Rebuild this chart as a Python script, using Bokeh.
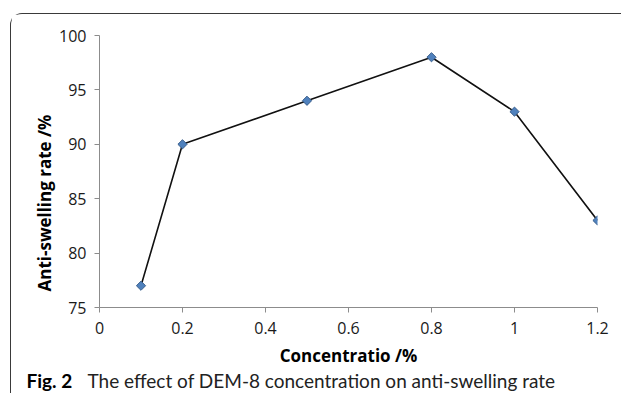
import numpy as np
from bokeh.plotting import figure
from bokeh.models import Range1d, FixedTicker, Title, Div
from bokeh.layouts import column
from bokeh.embed import file_html
from bokeh.resources import INLINE

concentration = [0.1, 0.2, 0.5, 0.8, 1.0, 1.2]
anti_swelling = [77, 90, 94, 98, 93, 83]
x_ticks = [0, 0.2, 0.4, 0.6, 0.8, 1.0, 1.2]
x_tick_labels = ["0", "0.2", "0.4", "0.6", "0.8", "1", "1.2"]
y_ticks = [75, 80, 85, 90, 95, 100]
x_title = "Concentratio /%"
y_title = "Anti-swelling rate /%"
caption_bold = "Fig. 2"
caption_text = "The effect of DEM-8 concentration on anti-swelling rate"

FONT = "Open Sans"
W = 610
H_MAIN = 355
H_CAP = 24

p = figure(width=W, height=H_MAIN, output_backend="svg", toolbar_location=None,
           x_range=Range1d(0, 1.2), y_range=Range1d(75, 100),
           min_border_left=88, min_border_right=24, min_border_top=21, min_border_bottom=61)
p.outline_line_color = None
p.xgrid.visible = False
p.ygrid.visible = False

for ax in (p.xaxis[0], p.yaxis[0]):
    ax.axis_line_color = "#8c8c8c"
    ax.axis_line_width = 1
    ax.major_tick_line_color = "#8c8c8c"
    ax.major_tick_out = 5
    ax.major_tick_in = 0
    ax.minor_tick_line_color = None
    ax.major_label_text_font = FONT
    ax.major_label_text_font_size = "16px"
    ax.major_label_text_color = "#1a1a1a"

p.xaxis.ticker = FixedTicker(ticks=x_ticks)
p.xaxis.major_label_overrides = {t: l for t, l in zip(x_ticks, x_tick_labels)}
p.xaxis.major_label_standoff = 9
p.xaxis.axis_label = x_title
p.xaxis.axis_label_standoff = 7
p.xaxis.axis_label_text_font = FONT
p.xaxis.axis_label_text_font_size = "17px"
p.xaxis.axis_label_text_font_style = "bold"
p.xaxis.axis_label_text_color = "#000000"

p.yaxis.ticker = FixedTicker(ticks=y_ticks)
p.yaxis.major_label_standoff = 8

p.add_layout(Title(text=y_title, align="left", offset=16, standoff=2,
                   text_font=FONT, text_font_size="17px", text_font_style="bold",
                   text_color="#000000"), "left")

p.line(concentration, anti_swelling, line_color="#111111", line_width=1.6)
p.scatter(concentration, anti_swelling, marker="square", size=6.5, angle=np.pi / 4,
          fill_color="#4f81bd", line_color="#385d8a", line_width=1)

caption_html = (
    '<div style="font-family:Lato; font-size:19px; line-height:24px; '
    'color:#222222; padding-left:15.5px; white-space:nowrap;">'
    '<span style="display:inline-block; width:61px; font-weight:bold; color:#000;">'
    + caption_bold + '</span><span>' + caption_text + '</span></div>'
)
cap = Div(text=caption_html, width=W, height=H_CAP, margin=0)

layout = column(p, cap, spacing=0, margin=(13, 0, 0, 10),
                styles={"border-top": "1.5px solid #3a3a3a",
                        "border-left": "1.5px solid #3a3a3a",
                        "border-top-left-radius": "12px"})

open("out.html", "w").write(file_html(layout, INLINE))
